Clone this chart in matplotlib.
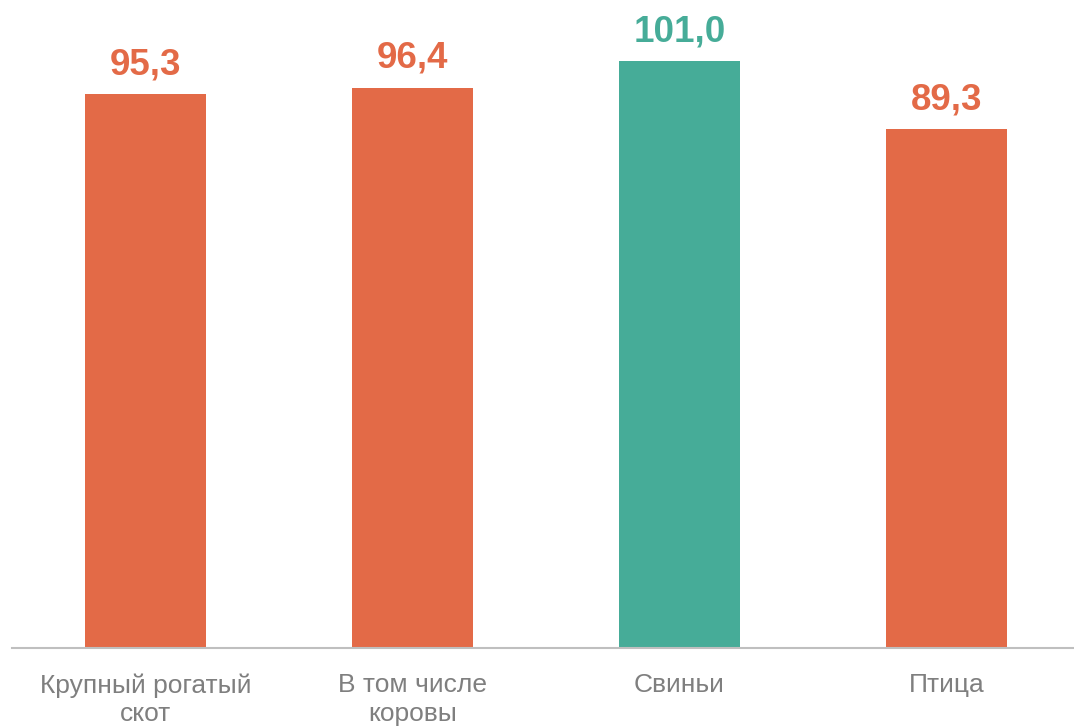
import matplotlib
matplotlib.use("Agg")
import matplotlib.pyplot as plt

categories = ["Крупный рогатый\nскот", "В том числе\nкоровы", "Свиньи", "Птица"]
values = [95.3, 96.4, 101.0, 89.3]
labels = ["95,3", "96,4", "101,0", "89,3"]
colors = ["#E36A47", "#E36A47", "#46AC98", "#E36A47"]

plt.rcParams['font.family'] = ['Liberation Sans', 'DejaVu Sans']

W, H = 1074, 727
fig = plt.figure(figsize=(W / 100, H / 100), dpi=100)
ax = fig.add_axes([12 / W, (H - 648) / H, 1068 / W, 648 / H])
x = list(range(len(values)))
ax.bar(x, values, width=0.45, color=colors, zorder=2)
ax.set_xlim(-0.5, 3.5)
ax.set_ylim(0, 111.5)
for xi, v, lab, c in zip(x, values, labels, colors):
    ax.annotate(lab, (xi, v), xytext=(0, 12), textcoords="offset pixels",
                ha="center", va="bottom", fontsize=26.5, fontweight="bold", color=c)
ax.set_xticks(x)
ax.set_xticklabels(categories, fontsize=19, color="#7F7F7F", linespacing=1.25)
ax.tick_params(axis="x", length=0, pad=18)
ax.set_yticks([])
for s in ["top", "right", "left"]:
    ax.spines[s].set_visible(False)
ax.spines["bottom"].set_color("#BFBFBF")
ax.spines["bottom"].set_linewidth(1.5)
fig.savefig("out.png", dpi=100)
